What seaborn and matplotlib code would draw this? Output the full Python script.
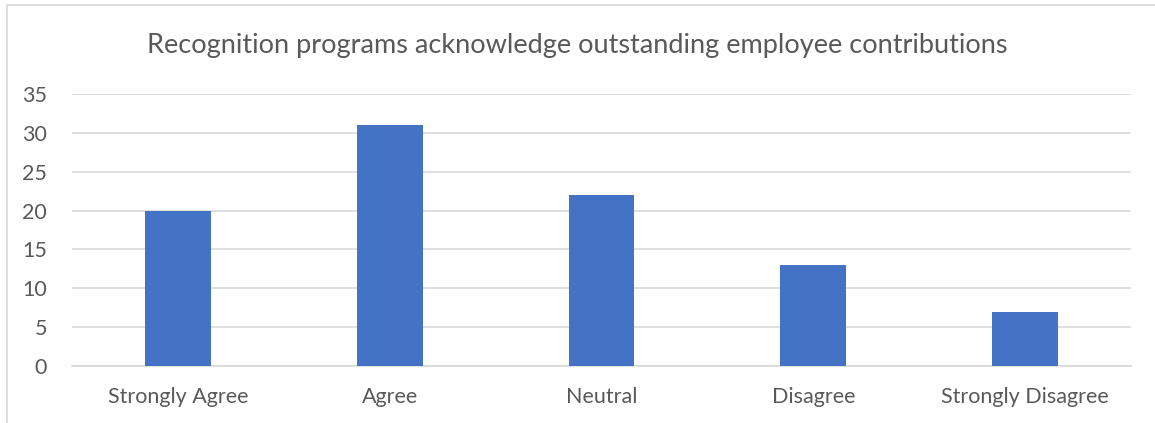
import matplotlib
matplotlib.use("Agg")
import matplotlib.pyplot as plt
import seaborn as sns
import pandas as pd

categories = ["Strongly Agree", "Agree", "Neutral", "Disagree", "Strongly Disagree"]
counts = [20, 31, 22, 13, 7]
title = "Recognition programs acknowledge outstanding employee contributions"

sns.set_style("white")
plt.rcParams["font.family"] = ["Lato", "DejaVu Sans"]

df = pd.DataFrame({"response": categories, "count": counts})

fig = plt.figure(figsize=(11.55, 4.23), dpi=100)
ax = fig.add_axes([72 / 1155, 1 - 366 / 423, (1131 - 72) / 1155, (366 - 94) / 423])

sns.barplot(data=df, x="response", y="count", color="#4472C4", saturation=1,
            width=0.31, ax=ax, zorder=3, linewidth=0)

ax.set_ylim(0, 35)
ax.set_yticks(range(0, 36, 5))
ax.yaxis.grid(True, color="#D9D9D9", linewidth=1.2, zorder=0)
ax.set_axisbelow(True)
for s in ["top", "right", "left"]:
    ax.spines[s].set_visible(False)
ax.spines["bottom"].set_color("#D9D9D9")
ax.spines["bottom"].set_linewidth(1.2)
ax.tick_params(axis="both", length=0, labelsize=15.5, colors="#595959")
ax.tick_params(axis="x", pad=15)
ax.tick_params(axis="y", pad=18)
ax.set_xlabel("")
ax.set_ylabel("")

fig.text(0.5, 1 - 45 / 423, title, ha="center", va="center", fontsize=19.5, color="#595959")

# chart frame
frame = plt.Rectangle((7 / 1155, -0.05), 1.1, 1 - 5 / 423 + 0.05, transform=fig.transFigure,
                      fill=False, edgecolor="#D9D9D9", linewidth=1.2)
fig.patches.append(frame)

fig.savefig("out.png", dpi=100)
